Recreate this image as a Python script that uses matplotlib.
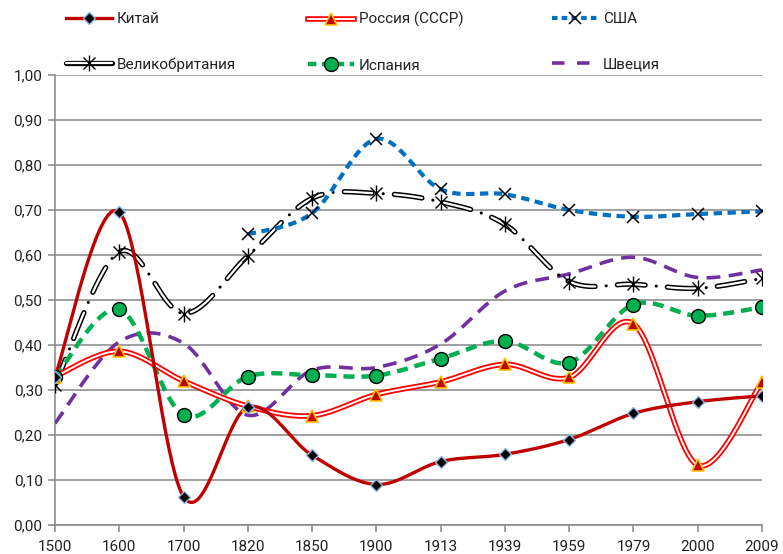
import numpy as np
import matplotlib
matplotlib.use("Agg")
import matplotlib.pyplot as plt
from matplotlib.lines import Line2D
from matplotlib.ticker import FuncFormatter, MultipleLocator

plt.rcParams['font.family'] = ['Roboto', 'DejaVu Sans']
plt.rcParams['lines.scale_dashes'] = False

years = ['1500', '1600', '1700', '1820', '1850', '1900', '1913', '1939', '1959', '1979', '2000', '2009']

china   = [0.330, 0.695, 0.063, 0.262, 0.155, 0.090, 0.141, 0.157, 0.190, 0.248, 0.274, 0.287]
russia  = [0.330, 0.386, 0.320, 0.264, 0.243, 0.290, 0.318, 0.357, 0.328, 0.447, 0.133, 0.318]
usa     = [np.nan, np.nan, np.nan, 0.646, 0.693, 0.858, 0.746, 0.735, 0.700, 0.685, 0.691, 0.697]
uk      = [0.311, 0.607, 0.470, 0.598, 0.726, 0.737, 0.718, 0.668, 0.541, 0.535, 0.526, 0.548]
spain   = [0.328, 0.479, 0.244, 0.330, 0.333, 0.332, 0.370, 0.409, 0.361, 0.490, 0.465, 0.484]
sweden  = [0.226, 0.407, 0.404, 0.244, 0.344, 0.350, 0.402, 0.520, 0.558, 0.595, 0.550, 0.567]


def smooth(xs, ys, n=40):
    """Excel-like smoothing: Catmull-Rom / Bezier through points."""
    xs = np.asarray(xs, float)
    ys = np.asarray(ys, float)
    m = ~np.isnan(ys)
    xs, ys = xs[m], ys[m]
    P = np.column_stack([xs, ys])
    k = len(P)
    out = []
    t = np.linspace(0, 1, n)
    for i in range(k - 1):
        p0 = P[i - 1] if i > 0 else P[i]
        p1 = P[i]
        p2 = P[i + 1]
        p3 = P[i + 2] if i + 2 < k else P[i + 1]
        c1 = p1 + (p2 - p0) / 6.0
        c2 = p2 - (p3 - p1) / 6.0
        seg = ((1 - t) ** 3)[:, None] * p1 + (3 * (1 - t) ** 2 * t)[:, None] * c1 \
            + (3 * (1 - t) * t ** 2)[:, None] * c2 + (t ** 3)[:, None] * p2
        out.append(seg if i == 0 else seg[1:])
    S = np.vstack(out)
    return S[:, 0], S[:, 1]


fig = plt.figure(figsize=(7.83, 5.54), dpi=100)
ax = fig.add_axes([55 / 783, 1 - 525 / 554, 707 / 783, 450 / 554])

x = np.arange(len(years))
grid_c = '#868686'

# Sweden
sx, sy = smooth(x, sweden)
ax.plot(sx, sy, color='#7030A0', lw=2.6, dashes=(10, 6), solid_capstyle='butt', zorder=3)

# UK: double line with long-dash-dot (dashes outlined, dots solid)
ux, uy = smooth(x, uk)
D, G, DOT = 20.0, 8.0, 0.1
period = D + G + DOT + G
ax.plot(ux, uy, color='black', lw=3.8, linestyle=(0, (D, period - D)),
        dash_capstyle='round', zorder=4)
ax.plot(ux, uy, color='white', lw=1.6, linestyle=(0, (D, period - D)),
        dash_capstyle='round', zorder=4)
ax.plot(ux, uy, color='black', lw=2.2, linestyle=(period - (D + G), (DOT, period - DOT)),
        dash_capstyle='round', zorder=4)
ax.plot(x, uk, ls='none', marker='x', ms=8, mec='black', mew=1.0, zorder=8)
ax.plot(x, uk, ls='none', marker='|', ms=11, mec='black', mew=1.0, zorder=8)

# USA
ax_, ay_ = smooth(x, usa)
ax.plot(ax_, ay_, color='#0070C0', lw=3.0, dashes=(6, 4), zorder=5)
ax.plot(x, usa, ls='none', marker='x', ms=9, mec='black', mew=1.1, zorder=8)

# Spain
px, py = smooth(x, spain)
ax.plot(px, py, color='#00B050', lw=3.2, dashes=(8, 5), zorder=5)
ax.plot(x, spain, ls='none', marker='o', ms=10, mfc='#00B050', mec='black', mew=1.0, zorder=8)

# Russia: double red line
rx, ry = smooth(x, russia)
ax.plot(rx, ry, color='#FF0000', lw=4.0, zorder=6)
ax.plot(rx, ry, color='white', lw=1.4, zorder=6)
ax.plot(x, russia, ls='none', marker='^', ms=9, mfc='#C00000', mec='#FFC000', mew=1.2, zorder=9)

# China
cx, cy = smooth(x, china)
ax.plot(cx, cy, color='#C00000', lw=2.4, zorder=7)
ax.plot(x, china, ls='none', marker='D', ms=6, mfc='black', mec='#8DB4E2', mew=1.0, zorder=9)

ax.set_xlim(0, len(years) - 1)
ax.set_ylim(0, 1.0)
ax.set_xticks(x)
ax.set_xticklabels(years)
ax.yaxis.set_major_locator(MultipleLocator(0.1))
ax.yaxis.set_major_formatter(FuncFormatter(lambda v, p: f"{v:.2f}".replace('.', ',')))
ax.grid(axis='y', color=grid_c, lw=1.1, zorder=0)
ax.set_axisbelow(True)
for s in ['top', 'right']:
    ax.spines[s].set_visible(False)
for s in ['left', 'bottom']:
    ax.spines[s].set_color(grid_c)
    ax.spines[s].set_linewidth(1.1)
ax.tick_params(axis='both', direction='out', length=5, color=grid_c, width=1.1,
               labelsize=11, labelcolor='#222222')
ax.tick_params(axis='x', pad=6)
ax.tick_params(axis='y', pad=4)

# Legend handles
h_china = (Line2D([], [], color='#C00000', lw=2.4),
           Line2D([], [], ls='none', marker='D', ms=6, mfc='black', mec='#8DB4E2'))
h_russia = (Line2D([], [], color='#FF0000', lw=4.0),
            Line2D([], [], color='white', lw=1.4),
            Line2D([], [], ls='none', marker='^', ms=9, mfc='#C00000', mec='#FFC000', mew=1.2))
h_usa = (Line2D([], [], color='#0070C0', lw=3.0, dashes=(4, 3)),
         Line2D([], [], ls='none', marker='x', ms=8, mec='black', mew=1.1))
h_uk = (Line2D([], [], color='black', lw=3.8, solid_capstyle='round'),
        Line2D([], [], color='white', lw=1.6, solid_capstyle='round'),
        Line2D([], [], ls='none', marker='x', ms=8, mec='black'),
        Line2D([], [], ls='none', marker='|', ms=11, mec='black'))
h_spain = (Line2D([], [], color='#00B050', lw=3.2, dashes=(6, 4)),
           Line2D([], [], ls='none', marker='o', ms=10, mfc='#00B050', mec='black'))
h_sweden = Line2D([], [], color='#7030A0', lw=2.6, dashes=(9, 9))

cols = [((h_china, h_uk), ('Китай', 'Великобритания'), 66),
        ((h_russia, h_spain), ('Россия (СССР)', 'Испания'), 308),
        ((h_usa, h_sweden), ('США', 'Швеция'), 552)]
for hs, ls, xpx in cols:
    fig.legend(list(hs), list(ls), loc='upper left', bbox_to_anchor=(xpx / 783, 1 - 12 / 554),
               frameon=False, fontsize=11, handlelength=3.0, handletextpad=0.33,
               labelspacing=2.05, borderpad=0.0, borderaxespad=0.0,
               labelcolor='#222222')

fig.savefig('out.png', dpi=100)
